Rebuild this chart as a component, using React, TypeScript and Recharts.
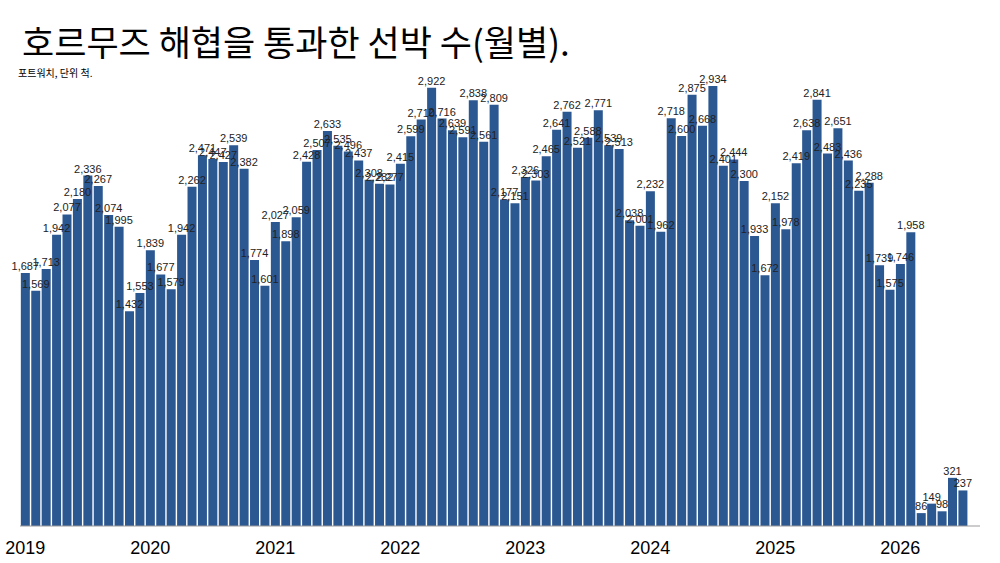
import React from 'react';
import { BarChart, Bar, XAxis, YAxis, LabelList } from 'recharts';

const years = ['2019', '2020', '2021', '2022', '2023', '2024', '2025', '2026'];

const ships2019 = [1687, 1569, 1713, 1942, 2077, 2180, 2336, 2267, 2074, 1995, 1432, 1553];
const ships2020 = [1839, 1677, 1579, 1942, 2262, 2471, 2447, 2427, 2539, 2382, 1774, 1601];
const ships2021 = [2027, 1898, 2059, 2428, 2507, 2633, 2535, 2496, 2437, 2308, 2282, 2277];
const ships2022 = [2415, 2599, 2710, 2922, 2716, 2639, 2591, 2838, 2561, 2809, 2177, 2151];
const ships2023 = [2326, 2303, 2465, 2641, 2762, 2521, 2588, 2771, 2539, 2513, 2038, 2001];
const ships2024 = [2232, 1962, 2718, 2600, 2875, 2668, 2934, 2401, 2444, 2300, 1933, 1672];
const ships2025 = [2152, 1978, 2419, 2638, 2841, 2483, 2651, 2436, 2235, 2288, 1739, 1575];
const ships2026 = [1746, 1958, 86, 149, 98, 321, 237];

const byYear = [ships2019, ships2020, ships2021, ships2022, ships2023, ships2024, ships2025, ships2026];

const data = byYear.flatMap((vals, yi) =>
  vals.map((v, mi) => ({ month: `${years[yi]}-${String(mi + 1).padStart(2, '0')}`, ships: v }))
);

const fmt = (v: number) => v.toLocaleString('en-US');

export default function App() {
  return (
    <div style={{ position: 'absolute', left: 0, top: 0, width: 1000, height: 563, background: '#fff', fontFamily: '"Liberation Sans", Arial, sans-serif' }}>
      <div style={{ position: 'absolute', left: 22, top: 16, fontSize: 35, fontWeight: 400, fontFamily: '"Noto Sans CJK KR", sans-serif', color: '#000', whiteSpace: 'nowrap', lineHeight: '50px' }}>
        호르무즈 해협을 통과한 선박 수(월별).
      </div>
      <div style={{ position: 'absolute', left: 18, top: 65, fontSize: 10, fontFamily: '"Noto Sans CJK KR", sans-serif', color: '#000' }}>
        포트워치, 단위 척.
      </div>
      <BarChart width={1000} height={563} data={data} margin={{ top: 76, right: 20, bottom: 7, left: 20 }} barCategoryGap="8%">
        <XAxis
          dataKey="month"
          interval={11}
          tickFormatter={(m: string) => m.slice(0, 4)}
          tickLine={false}
          axisLine={{ stroke: '#999' }}
          tick={{ fontSize: 18, fill: '#000', dy: 7 }}
          height={30}
          padding={{ left: 0, right: 12 }}
        />
        <YAxis hide domain={[0, 3000]} />
        <Bar dataKey="ships" fill="#2c5892" isAnimationActive={false}>
          <LabelList dataKey="ships" position="top" offset={3} fontSize={11} fill="#222" formatter={(v: any) => fmt(Number(v))} />
        </Bar>
      </BarChart>
    </div>
  );
}
